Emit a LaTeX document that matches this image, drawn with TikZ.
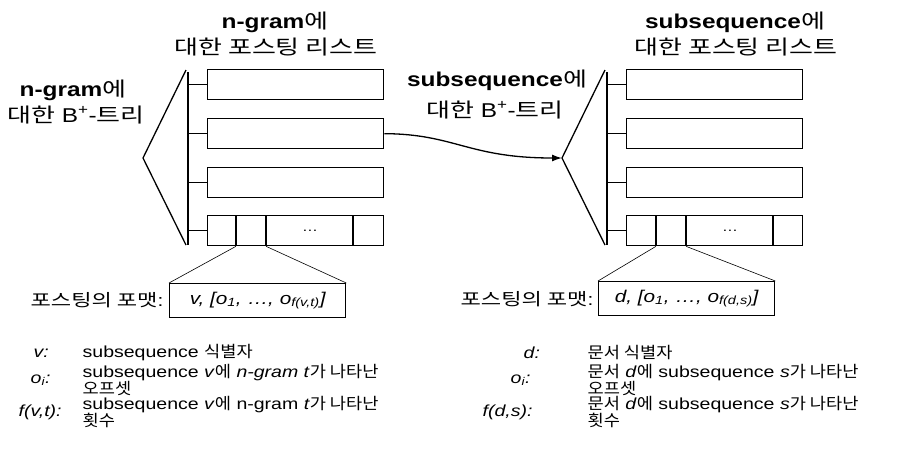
\documentclass[tikz,border=0pt]{standalone}
\usepackage{fontspec}
\setmainfont[FakeStretch=1.22]{Liberation Sans}
\newfontfamily\krfont[FakeStretch=1.1]{Noto Sans CJK KR}
\newfontfamily\krwide[FakeStretch=1.3]{Noto Sans CJK KR}
\newcommand\K[1]{{\krfont #1}}
\newcommand\KW[1]{{\krwide\mdseries #1}}
\usetikzlibrary{arrows.meta}
\begin{document}
\begin{tikzpicture}[x=1pt,y=-1pt,line width=1.3pt,
  rec/.style={draw,rectangle,minimum width=176pt,minimum height=30pt,inner sep=0pt,anchor=north west},
  fmt/.style={draw,rectangle,minimum width=176pt,minimum height=34pt,inner sep=0pt,anchor=north west,
     font=\fontsize{17}{20}\selectfont\itshape},
  head/.style={inner sep=0pt,font=\fontsize{20}{23}\selectfont},
  flab/.style={inner sep=0pt,anchor=east,font=\fontsize{17}{20}\selectfont},
  lbl/.style={inner sep=0pt,anchor=west,font=\fontsize{16}{13}\selectfont},
  desc/.style={inner sep=0pt,anchor=west,align=left,font=\fontsize{16}{12.5}\selectfont},
  zline/.style={line width=0.6pt},
  dots/.style={inner sep=0pt,font=\fontsize{13}{14}\selectfont}]
\useasboundingbox (0,0) rectangle (900,467);

% ---------- left: n-gram ----------
\node[head] (lh1) at (275,22) {\bfseries n-gram\KW{에}};
\node[head] (lh2) at (276,47) {\KW{대한 포스팅 리스트}};
\node[head] (lt1) at (73,90) {\bfseries n-gram\KW{에}};
\node[head] (lt2) at (76,115) {\KW{대한} B\textsuperscript{+}-\KW{트리}};

\coordinate (LA) at (143,158);
\draw (186,70) -- (LA) -- (186,245);
\draw (188,72) -- (188,245);
\node[rec] (L1) at (207,69) {};
\node[rec] (L2) at (207,118) {};
\node[rec] (L3) at (207,167) {};
\node[rec] (L4) at (207,215) {};
\foreach \b in {L1,L2,L3,L4} \draw (\b.west) -- ++(-19,0);
\draw ([xshift=29pt]L4.north west) -- ([xshift=29pt]L4.south west);
\draw ([xshift=59pt]L4.north west) -- ([xshift=59pt]L4.south west);
\draw ([xshift=146pt]L4.north west) -- ([xshift=146pt]L4.south west);
\node[dots] (ld) at (310,231) {\ldots};

\node[fmt] (LF) at (169,283) {v, [o\textsubscript{1}, \ldots, o\textsubscript{f(v,t)}]};
\draw[zline] ([xshift=29pt]L4.south west) -- (LF.north west);
\draw[zline] ([xshift=59pt]L4.south west) -- (LF.north east);
\node[flab] (lfl) at (164,300) {\KW{포스팅의 포맷}:};

% ---------- right: subsequence ----------
\node[head] (rh1) at (735,22) {\bfseries subsequence\KW{에}};
\node[head] (rh2) at (736,47) {\KW{대한 포스팅 리스트}};
\node[head] (mt1) at (497,80) {\bfseries subsequence\KW{에}};
\node[head] (mt2) at (495,110) {\KW{대한} B\textsuperscript{+}-\KW{트리}};

\coordinate (RA) at (562,158);
\draw (605,70) -- (RA) -- (605,245);
\draw (607,72) -- (607,245);
\node[rec] (R1) at (626,69) {};
\node[rec] (R2) at (626,118) {};
\node[rec] (R3) at (626,167) {};
\node[rec] (R4) at (626,215) {};
\foreach \b in {R1,R2,R3,R4} \draw (\b.west) -- ++(-19,0);
\draw ([xshift=30pt]R4.north west) -- ([xshift=30pt]R4.south west);
\draw ([xshift=60pt]R4.north west) -- ([xshift=60pt]R4.south west);
\draw ([xshift=147pt]R4.north west) -- ([xshift=147pt]R4.south west);
\node[dots] (rd) at (730,231) {\ldots};

\node[fmt] (RF) at (598,281) {d, [o\textsubscript{1}, \ldots, o\textsubscript{f(d,s)}]};
\draw[zline] ([xshift=30pt]R4.south west) -- (RF.north west);
\draw[zline] ([xshift=60pt]R4.south west) -- (RF.north east);
\node[flab] (rfl) at (594,299) {\KW{포스팅의 포맷}:};

% ---------- connector ----------
\draw[-{Latex[length=10pt,width=7pt]}] (L2.east) .. controls (455,134) and (468,158) .. (RA);

% ---------- legend left ----------
\node[lbl] (lv) at (33,353) {\itshape v:};
\node[desc] (lvd) at (82,353) {subsequence \K{식별자}};
\node[lbl] (lo) at (30,380) {\itshape o\textsubscript{i}:};
\node[desc] (lod) at (82,380) {subsequence \textit{v}\K{에} \textit{n-gram t}\K{가 나타난}\\\K{오프셋}};
\node[lbl] (lf) at (18,412) {\itshape f(v,t):};
\node[desc] (lfd) at (82,412) {subsequence \textit{v}\K{에} n-gram \textit{t}\K{가 나타난}\\\K{횟수}};

% ---------- legend right ----------
\node[lbl] (rv) at (523,353) {\itshape d:};
\node[desc] (rvd) at (587,353) {\K{문서 식별자}};
\node[lbl] (ro) at (510,380) {\itshape o\textsubscript{i}:};
\node[desc] (rod) at (587,380) {\K{문서} \textit{d}\K{에} subsequence \textit{s}\K{가 나타난}\\\K{오프셋}};
\node[lbl] (rf) at (482,412) {\itshape f(d,s):};
\node[desc] (rfd) at (587,412) {\K{문서} \textit{d}\K{에} subsequence \textit{s}\K{가 나타난}\\\K{횟수}};
\end{tikzpicture}
\end{document}
